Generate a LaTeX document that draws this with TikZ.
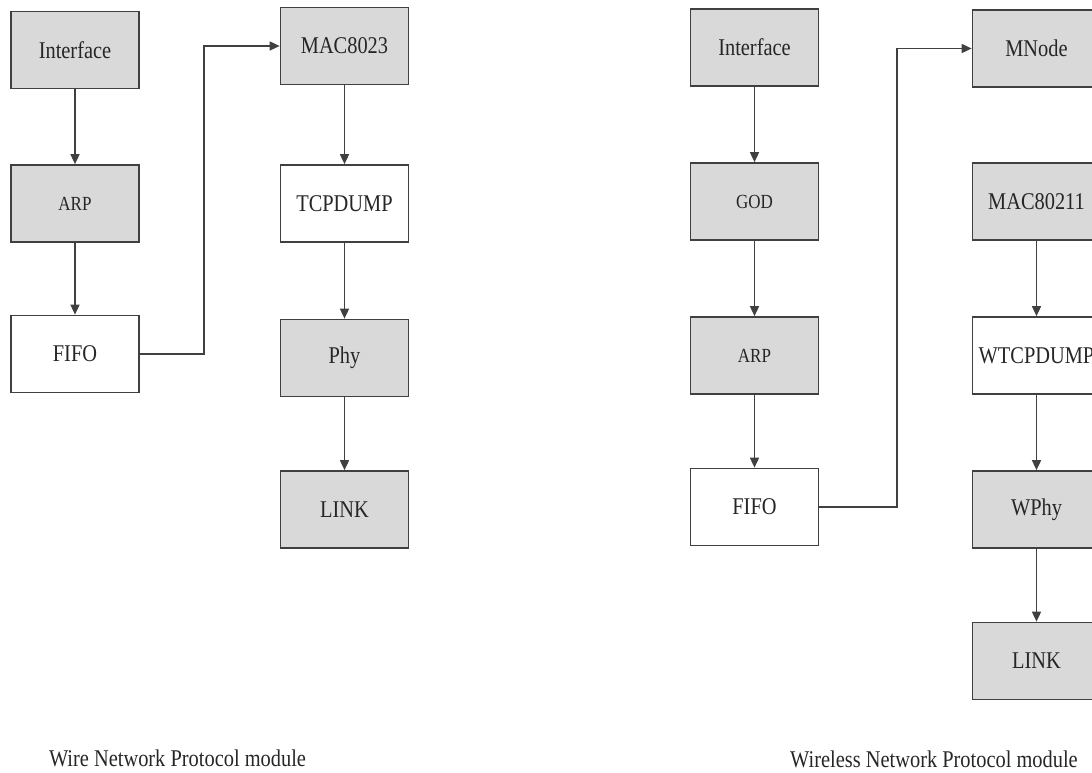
\documentclass[tikz,border=0pt]{standalone}
\usepackage{fontspec}
\setmainfont{Liberation Serif}[FakeStretch=0.85]
\usetikzlibrary{arrows.meta}
\definecolor{boxfill}{HTML}{D9D9D9}
\definecolor{edge}{HTML}{404040}
\definecolor{ink}{HTML}{262626}
\begin{document}
\begin{tikzpicture}[x=1pt,y=-1pt,
  module/.style={draw=edge, line width=1.7pt, minimum width=128pt, minimum height=77pt,
    inner sep=0pt, text=ink, font=\fontsize{24}{28}\selectfont},
  grey/.style={module, fill=boxfill},
  plain/.style={module, fill=white},
  small/.style={font=\fontsize{20}{24}\selectfont},
  link/.style={draw=edge, line width=1.6pt, -{Triangle[length=10pt,width=9pt]}},
  caption/.style={text=ink, font=\fontsize{24}{28}\selectfont, inner sep=0pt}]
\useasboundingbox (0,0) rectangle (1092,773);

% wired stack
\node[grey]  (ifL)   at (75,50)      {Interface};
\node[grey,small] (arpL) at (75,203.5) {ARP};
\node[plain] (fifoL) at (75,354)     {FIFO};
\node[grey]  (mac)   at (344.5,46)   {MAC8023};
\node[plain] (tcp)   at (344.5,203.5){TCPDUMP};
\node[grey]  (phy)   at (344.5,358)  {Phy};
\node[grey]  (linkL) at (344.5,509.5){LINK};

\draw[link] (ifL) -- (arpL);
\draw[link] (arpL) -- (fifoL);
\coordinate (j1) at (204,46);
\draw[link] (fifoL.east) -| (j1) -- (mac.west);
\draw[link] (mac) -- (tcp);
\draw[link] (tcp) -- (phy);
\draw[link] (phy) -- (linkL);

\node[caption] (capL) at (177.5,758) {Wire Network Protocol module};

% wireless stack
\node[grey]  (ifR)   at (754.5,47.5)  {Interface};
\node[grey,small] (god) at (754.5,201.5) {GOD};
\node[grey,small] (arpR) at (754.5,355.5) {ARP};
\node[plain] (fifoR) at (754.5,507)   {FIFO};
\node[grey]  (mnode) at (1036.5,48.5) {MNode};
\node[grey]  (mac11) at (1036.5,201.5){MAC80211};
\node[plain] (wtcp)  at (1036.5,355.5){WTCPDUMP};
\node[grey]  (wphy)  at (1036.5,509.5){WPhy};
\node[grey]  (linkR) at (1036.5,661)  {LINK};

\draw[link] (ifR) -- (god);
\draw[link] (god) -- (arpR);
\draw[link] (arpR) -- (fifoR);
\coordinate (j2) at (897,48.5);
\draw[link] (fifoR.east) -| (j2) -- (mnode.west);
\draw[link] (mac11) -- (wtcp);
\draw[link] (wtcp) -- (wphy);
\draw[link] (wphy) -- (linkR);

\node[caption] (capR) at (934,759) {Wireless Network Protocol module};
\end{tikzpicture}
\end{document}
